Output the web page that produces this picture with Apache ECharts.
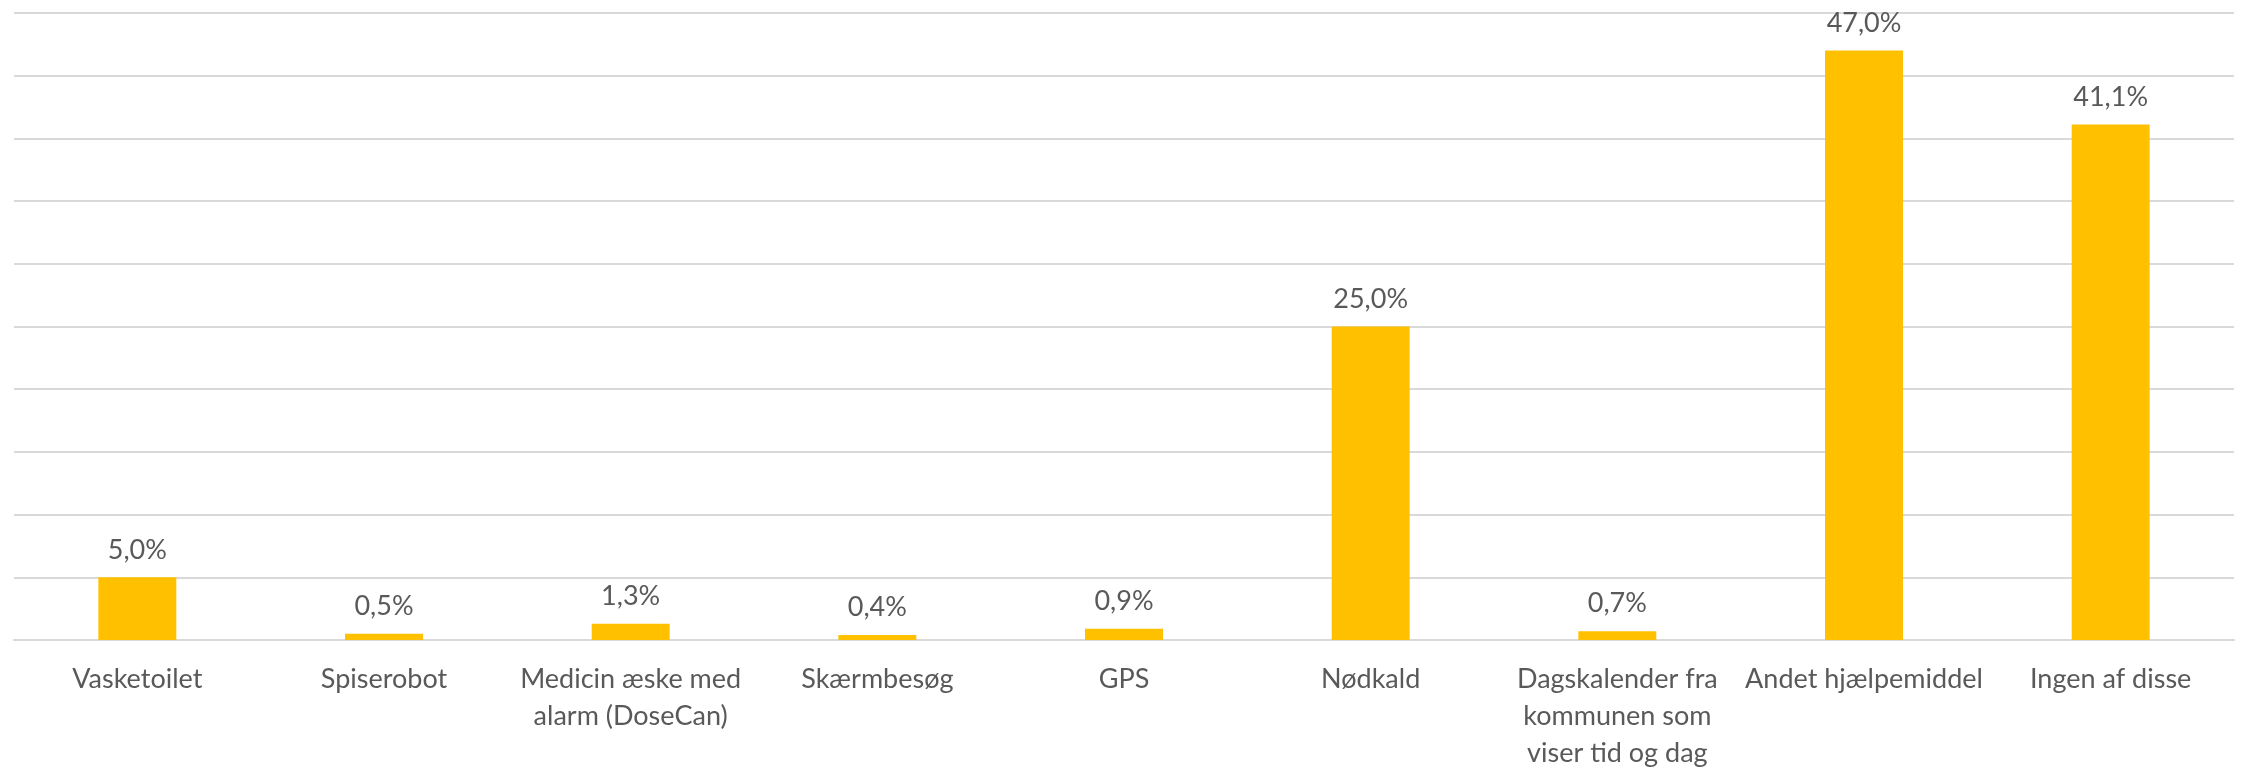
<!DOCTYPE html>
<html>
<head>
<meta charset="utf-8">
<script src="https://cdn.jsdelivr.net/npm/echarts@6/dist/echarts.min.js"></script>
<style>
  html, body { margin: 0; padding: 0; background: #ffffff; }
  #chart { width: 2244px; height: 772px; }
</style>
</head>
<body>
<div id="chart"></div>
<script>
// Kategorier (hjælpemidler) og andel i procent
const categories = [
  'Vasketoilet',
  'Spiserobot',
  'Medicin æske med\nalarm (DoseCan)',
  'Skærmbesøg',
  'GPS',
  'Nødkald',
  'Dagskalender fra\nkommunen som\nviser tid og dag',
  'Andet hjælpemiddel',
  'Ingen af disse'
];
const values = [5.0, 0.5, 1.3, 0.4, 0.9, 25.0, 0.7, 47.0, 41.1];

// Værdiakse: 0–50 % i trin på 5
const axisMin = 0;
const axisMax = 50;
const axisStep = 5;

const FONT = 'Lato, "Open Sans", sans-serif';
const TEXT = '#595959';
const GRID = '#D9D9D9';

const chart = echarts.init(document.getElementById('chart'), null, { renderer: 'canvas' });

chart.setOption({
  animation: false,
  backgroundColor: '#ffffff',
  grid: { left: 14, right: 10, top: 13, bottom: 122, containLabel: false },
  xAxis: {
    type: 'category',
    data: categories,
    axisTick: { show: false },
    axisLine: { show: true, lineStyle: { color: GRID, width: 2 } },
    axisLabel: {
      interval: 0,
      margin: 21,
      color: TEXT,
      fontFamily: FONT,
      fontSize: 27,
      lineHeight: 37
    }
  },
  yAxis: {
    type: 'value',
    min: axisMin,
    max: axisMax,
    interval: axisStep,
    axisLabel: { show: false },
    axisLine: { show: false },
    axisTick: { show: false },
    splitLine: { show: true, lineStyle: { color: GRID, width: 2 } }
  },
  series: [{
    type: 'bar',
    data: values,
    barWidth: '31.6%',
    itemStyle: { color: '#FFC000' },
    label: {
      show: true,
      position: 'top',
      distance: 14,
      color: TEXT,
      fontFamily: FONT,
      fontSize: 27,
      formatter: p => p.value.toFixed(1).replace('.', ',') + '%'
    }
  }]
});
</script>
</body>
</html>
